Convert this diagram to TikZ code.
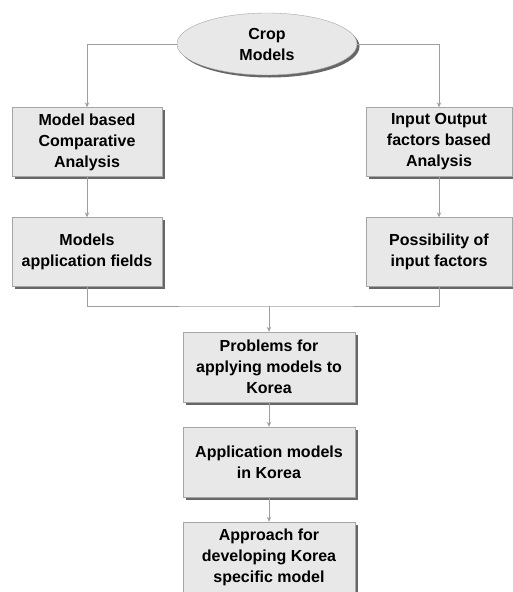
\documentclass[tikz,border=0pt]{standalone}
\usepackage{fontspec}
\setmainfont{Liberation Sans}
\usetikzlibrary{shapes.geometric,shadows,arrows.meta}

\begin{document}
\begin{tikzpicture}[x=1pt, y=-1pt,
  box/.style={draw=gray!70, fill=gray!18, minimum width=150pt, minimum height=69pt,
    align=center, font=\fontsize{16}{21}\selectfont\bfseries, inner sep=2pt,
    drop shadow={shadow xshift=2.5pt, shadow yshift=-2.5pt, fill=black!70, opacity=0.85}},
  link/.style={draw=gray!75, line width=0.8pt},
  arr/.style={link, -{Stealth[length=5pt, width=4.5pt]}}]

\useasboundingbox (0,0) rectangle (513,592);

\node[box, ellipse, minimum width=180pt, minimum height=62pt] (crop) at (267,44) {Crop\\Models};

\node[box] (mca) at (87,142) {Model based\\Comparative\\Analysis};
\node[box, minimum width=146pt] (ioa) at (439,142) {Input Output\\factors based\\Analysis};

\node[box] (maf) at (87,252) {Models\\application fields};
\node[box, minimum width=146pt] (pif) at (439,252) {Possibility of\\input factors};

\node[box, minimum width=172pt, minimum height=70pt] (prob) at (269,367) {Problems for\\applying models to\\Korea};
\node[box, minimum width=172pt, minimum height=70pt] (appl) at (269,462) {Application models\\in Korea};
\node[box, minimum width=172pt, minimum height=70pt] (appr) at (269,557) {Approach for\\developing Korea\\specific model};

\coordinate (join) at (269,306);

\draw[arr] (crop.west) -| (mca.north);
\draw[arr] (crop.east) -| (ioa.north);
\draw[arr] (mca) -- (maf);
\draw[arr] (ioa) -- (pif);
\draw[link] (maf.south) |- (join) -| (pif.south);
\draw[arr] (join) -- (prob);
\draw[arr] (prob) -- (appl);
\draw[arr] (appl) -- (appr);
\end{tikzpicture}
\end{document}
